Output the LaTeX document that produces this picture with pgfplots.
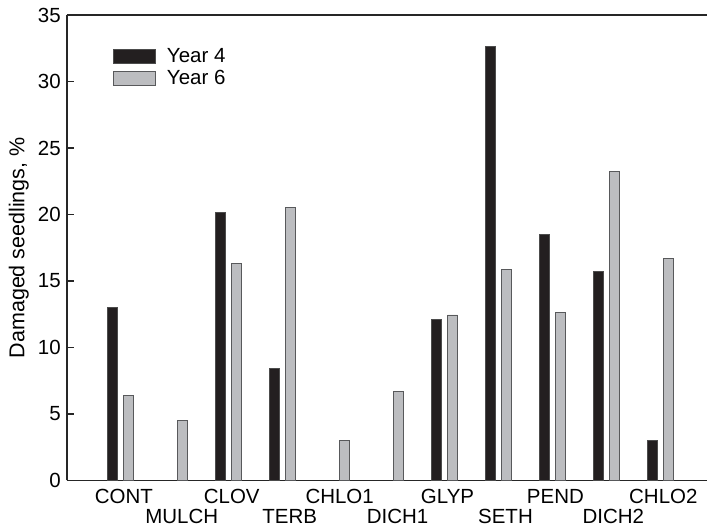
\documentclass[border=0pt]{standalone}
\usepackage{pgfplots}
\pgfplotsset{compat=1.18}
\usepackage{fontspec}
\setmainfont{Liberation Sans}

\definecolor{barblack}{HTML}{231F20}
\definecolor{bargray}{HTML}{BCBDC0}
\definecolor{edgegray}{HTML}{58595B}

\newcommand{\lab}{\fontsize{20.5}{19.5}\selectfont}

\pgfplotsset{
  boxlegend/.style={legend image code/.code={\draw[##1] (0pt,-7pt) rectangle (42pt,7pt);}}
}

\begin{document}
\begin{tikzpicture}
  \begin{axis}
  [
    scale only axis,
    width=641pt, height=466pt,
    xmin=-1, xmax=10.87,
    ymin=0, ymax=35,
    ytick distance=5,
    xtick={0,...,10},
    xticklabels={CONT, {\phantom{M}\\\hspace*{8pt}MULCH}, CLOV,
      {\phantom{M}\\\hspace*{8pt}TERB}, CHLO1, {\phantom{M}\\\hspace*{8pt}DICH1},
      GLYP, {\phantom{M}\\\hspace*{8pt}SETH}, PEND,
      {\phantom{M}\\\hspace*{8pt}DICH2}, CHLO2},
    axis x line*=box,
    axis y line*=left,
    axis line style={line width=1.5pt, black!85},
    tick align=inside,
    major tick length=7pt,
    xtick style={draw=none},
    ytick style={line width=1.5pt, black!85},
    ylabel={Damaged seedlings, \%},
    ylabel style={font=\fontsize{21.5}{22}\selectfont, inner sep=0pt, yshift=9pt},
    yticklabel style={font=\lab, inner sep=0pt, xshift=-6pt},
    xticklabel style={font=\lab, inner sep=0pt, align=center, yshift=-2pt, xshift=3pt},
    /pgf/number format/assume math mode=true,
    ybar,
    bar width=10pt,
    boxlegend,
    legend style={draw=none, fill=none, at={(0.072,0.93)}, anchor=north west,
      font=\lab, inner sep=0pt, row sep=4pt,
      nodes={inner sep=1pt},
      /tikz/every odd column/.append style={column sep=10pt}},
    legend cell align=left,
  ]
  \addplot[bar shift=-8pt, fill=barblack, draw=black!70, line width=0.8pt]
    coordinates {(0,13.0) (2,20.15) (3,8.4) (6,12.1) (7,32.6) (8,18.5)
                 (9,15.75) (10,3.0)};
  \addplot[bar shift=8pt, fill=bargray, draw=edgegray, line width=0.8pt]
    coordinates {(0,6.4) (1,4.5) (2,16.3) (3,20.5) (4,3.0) (5,6.7)
                 (6,12.45) (7,15.85) (8,12.65) (9,23.25) (10,16.7)};
  \legend{Year 4, Year 6}
  \coordinate (bl) at (rel axis cs:0,0);
  \coordinate (tr) at (rel axis cs:1,1);
  \end{axis}
  \path (bl) ++(-67pt,-48pt);
  \path (tr) ++(0pt,15pt);
\end{tikzpicture}
\end{document}
